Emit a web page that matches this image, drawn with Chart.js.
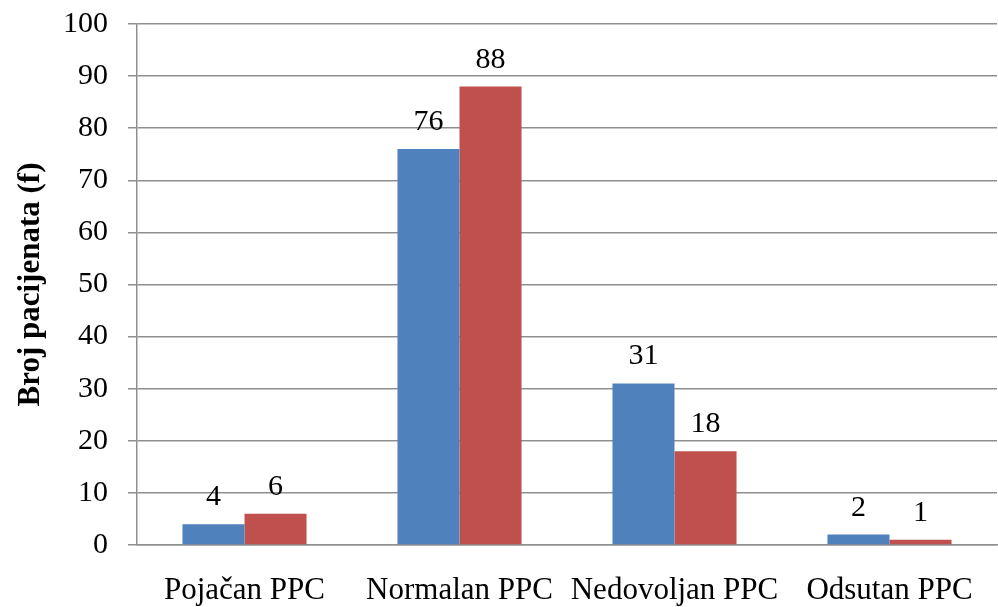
<!DOCTYPE html>
<html>
<head>
<meta charset="utf-8">
<script src="https://cdn.jsdelivr.net/npm/chart.js@4/dist/chart.umd.min.js"></script>
<style>
  html, body { margin: 0; padding: 0; background: #ffffff; }
  #wrap { width: 998px; height: 607px; position: relative; }
</style>
</head>
<body>
<div id="wrap"><canvas id="c" width="998" height="607"></canvas></div>
<script>
const categories = ['Pojačan PPC', 'Normalan PPC', 'Nedovoljan PPC', 'Odsutan PPC'];
const seriesBlue = [4, 76, 31, 2];
const seriesRed = [6, 88, 18, 1];
const yTicks = [0, 10, 20, 30, 40, 50, 60, 70, 80, 90, 100];
const yTitle = 'Broj pacijenata (f)';

const FONT = '"Liberation Serif", "Times New Roman", serif';
const GRID = '#8f8f8f';

const valueLabels = {
  id: 'valueLabels',
  afterDatasetsDraw(chart) {
    const ctx = chart.ctx;
    ctx.save();
    ctx.fillStyle = '#000000';
    ctx.font = '30px ' + FONT;
    ctx.textAlign = 'center';
    ctx.textBaseline = 'alphabetic';
    chart.data.datasets.forEach((ds, i) => {
      chart.getDatasetMeta(i).data.forEach((bar, j) => {
        ctx.fillText(String(ds.data[j]), bar.x, bar.y - 19);
      });
    });
    ctx.restore();
  }
};

new Chart(document.getElementById('c'), {
  type: 'bar',
  data: {
    labels: categories,
    datasets: [
      { data: seriesBlue, backgroundColor: '#4f81bd', borderWidth: 0 },
      { data: seriesRed, backgroundColor: '#c0504d', borderWidth: 0 }
    ]
  },
  options: {
    responsive: false,
    animation: false,
    devicePixelRatio: 1,
    layout: { padding: { top: 24, right: 1, left: 0, bottom: 0 } },
    plugins: { legend: { display: false }, tooltip: { enabled: false } },
    datasets: { bar: { categoryPercentage: 0.577, barPercentage: 1.0 } },
    scales: {
      x: {
        grid: { display: false, drawTicks: false },
        border: { display: true, color: GRID, width: 1.5 },
        ticks: { color: '#000000', font: { family: FONT, size: 31 }, padding: 27, maxRotation: 0, autoSkip: false },
        afterFit(s) { s.height = 62; s.paddingLeft = 0; s.paddingRight = 0; }
      },
      y: {
        min: 0,
        max: 100,
        afterBuildTicks(s) { s.ticks = yTicks.map(v => ({ value: v })); },
        grid: { color: GRID, lineWidth: 1.5, tickLength: 9, drawTicks: true },
        border: { display: true, color: GRID, width: 1.5 },
        ticks: { color: '#000000', font: { family: FONT, size: 30 }, padding: 20 },
        title: { display: true, text: yTitle, color: '#000000', font: { family: FONT, size: 31, weight: 'bold' }, padding: { top: 12, bottom: 0 } },
        afterFit(s) { s.width = 137; s.paddingTop = 0; s.paddingBottom = 0; }
      }
    }
  },
  plugins: [valueLabels]
});
</script>
</body>
</html>
